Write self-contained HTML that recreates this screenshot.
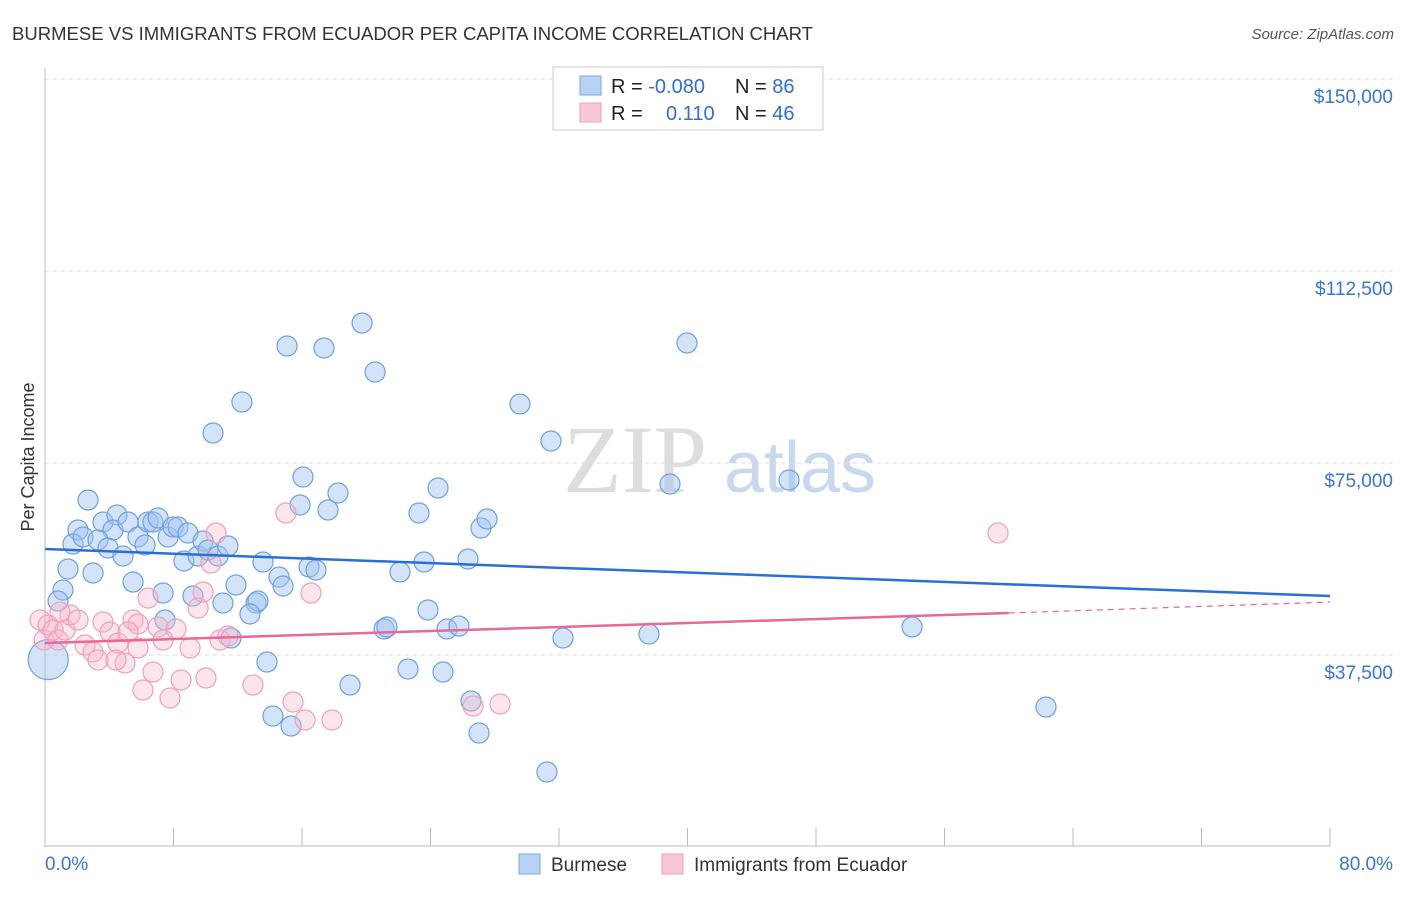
<!DOCTYPE html>
<html><head><meta charset="utf-8"><style>
body{margin:0;background:#fff;font-family:"Liberation Sans",sans-serif;}
</style></head><body>
<svg id="chart" width="1406" height="892" xmlns="http://www.w3.org/2000/svg" style="font-family:'Liberation Sans',sans-serif">
<text x="12" y="40" font-size="18" fill="#333" textLength="801" lengthAdjust="spacingAndGlyphs">BURMESE VS IMMIGRANTS FROM ECUADOR PER CAPITA INCOME CORRELATION CHART</text>
<text x="1394" y="39" font-size="15" fill="#555" font-style="italic" text-anchor="end">Source: ZipAtlas.com</text>
<text x="34" y="457" font-size="18" fill="#333" text-anchor="middle" transform="rotate(-90 34 457)">Per Capita Income</text>
<g><text x="635" y="492" font-size="96" font-family="Liberation Serif,serif" fill="#ddd" text-anchor="middle">ZIP</text><text x="800" y="492" font-size="72" fill="#c8d8ee" text-anchor="middle">atlas</text></g>
<g id="grid"></g><g id="axes"></g><g id="marks"></g><g id="lines"></g>
<g>
<rect x="553" y="67" width="270" height="63" fill="#fff" stroke="#ccc"/>
<rect x="580" y="76" width="21" height="19" fill="#b8d2f4" stroke="#7aa8e6"/>
<rect x="580" y="103" width="21" height="19" fill="#f9c8d6" stroke="#f0a0b8"/>
<text x="611" y="93" font-size="20" fill="#222">R = <tspan fill="#2f6fd0">-0.080</tspan></text>
<text x="735" y="93" font-size="20" fill="#222">N = <tspan fill="#2f6fd0">86</tspan></text>
<text x="611" y="120" font-size="20" fill="#222">R = </text><text x="666" y="120" font-size="20" fill="#2f6fd0">0.110</text>
<text x="735" y="120" font-size="20" fill="#222">N = <tspan fill="#2f6fd0">46</tspan></text>
</g>
<g>
<rect x="519" y="854" width="21" height="20" fill="#b8d2f4" stroke="#7aa8e6"/>
<text x="551" y="871" font-size="19" fill="#333">Burmese</text>
<rect x="662" y="854" width="21" height="20" fill="#f9c8d6" stroke="#f0a0b8"/>
<text x="694" y="871" font-size="19" fill="#333">Immigrants from Ecuador</text>
</g>
</svg>
<script>
const yTicks=[37500,75000,112500,150000];
const yTickLabels=["$37,500","$75,000","$112,500","$150,000"];
const xTickLabels=["0.0%","80.0%"];
const blueXs=[2.68,2.05,1.74,2.37,3.61,4.48,4.23,3.30,3.92,5.17,5.79,6.41,6.23,6.72,7.04,7.66,7.97,8.28,8.90,8.65,9.53,9.84,10.15,10.77,11.39,4.86,1.43,2.99,1.12,0.81,5.48,7.35,9.21,11.08,11.89,13.14,13.26,12.76,11.58,13.57,14.57,14.82,16.44,16.87,13.82,14.19,15.32,15.88,16.06,17.62,18.24,15.07,17.37,19.74,20.55,12.26,10.46,22.10,23.28,23.60,23.84,21.11,21.29,22.60,24.47,24.78,25.03,25.77,26.33,27.14,27.52,26.52,27.02,29.57,31.50,32.25,38.91,39.97,37.60,46.32,53.98,62.32,31.25,18.99,7.47];
const blueYs=[67773,61914,59180,60547,63477,64844,61914,59961,58398,63477,60547,63477,58984,63477,64258,60547,62500,62500,61328,55859,56836,59766,58008,56836,58789,56836,54297,53516,50195,48047,51758,49609,49023,47656,51172,47656,48047,45508,40820,55664,52734,50977,54688,54102,36133,25586,23633,66797,72266,65820,69141,97852,97461,102344,92773,86914,80859,53711,65234,55664,46289,42578,42969,34766,70117,34180,42578,43164,56250,62305,64063,28516,22266,86523,79297,40820,70898,98438,41602,71680,42969,27344,14648,31641,44336];
const pinkXs=[-0.31,-0.06,0.19,0.50,0.81,1.25,1.56,2.05,2.49,2.99,3.30,3.61,4.05,4.54,4.98,5.48,5.79,5.17,6.10,6.41,6.72,7.04,7.35,7.78,8.16,8.47,9.03,9.53,9.84,10.02,10.33,10.65,10.90,11.39,12.95,15.00,15.44,16.19,16.56,17.87,26.65,28.33,59.33,5.79,4.42,0.93];
const pinkYs=[44336,40430,43359,42383,40430,42383,45313,44336,39453,38086,36523,43945,41992,39844,35938,44336,43555,41992,30664,48633,34180,42969,40430,29102,42578,32617,38867,46680,49805,33008,55469,61328,40430,41211,31641,65234,28320,24805,49609,24805,27539,27930,61328,38867,36523,45898];
const blueLine=[58200,49020];
const pinkLine=[39840,45700,47850];
const pinkSolidEnd=60;
const X=p=>45+p*1285/80;
const Y=v=>847-v*192/37500;
const NS="http://www.w3.org/2000/svg";
function mk(t,a,parent){const e=document.createElementNS(NS,t);for(const k in a)e.setAttribute(k,a[k]);document.getElementById(parent).appendChild(e);return e;}
yTicks.forEach((v,i)=>{
 const l=mk('line',{x1:45,x2:1394,y1:Y(v),y2:Y(v),stroke:'#ddd','stroke-dasharray':'4,4'},'grid');
 
 
 const t=mk('text',{x:1393,y:Y(v)+24,'font-size':19,fill:'#3a74d4','text-anchor':'end'},'axes');
 t.textContent=yTickLabels[i];
 
 
});
const ya=mk('line',{x1:45,x2:45,y1:68,y2:847,stroke:'#bbb'},'axes');


const xa=mk('line',{x1:45,x2:1330,y1:846,y2:846,stroke:'#bbb'},'axes');


for(let i=0;i<=10;i++){const tk=mk('line',{x1:X(i*8),x2:X(i*8),y1:828,y2:846,stroke:'#bbb'},'axes');
 
 }
[[0,45,'start'],[80,1393,'end']].forEach((d,i)=>{const t=mk('text',{x:d[1],y:870,'font-size':19,fill:'#3a74d4','text-anchor':d[2]},'axes');t.textContent=xTickLabels[i];
 
 });
blueXs.forEach((x,i)=>{const c=mk('circle',{cx:X(x),cy:Y(blueYs[i]),r:10,fill:'rgba(160,196,240,0.45)',stroke:'#6fa0e0','stroke-width':1.2},'marks');
 
 });
const big=mk('circle',{cx:X(0.2),cy:Y(36600),r:20,fill:'rgba(160,196,240,0.45)',stroke:'#6fa0e0','stroke-width':1.2},'marks');


pinkXs.forEach((x,i)=>{const c=mk('circle',{cx:X(x),cy:Y(pinkYs[i]),r:10,fill:'rgba(246,180,200,0.35)',stroke:'#f0a0b8','stroke-width':1.2},'marks');
 
 });
const bl=mk('line',{x1:X(0),y1:Y(blueLine[0]),x2:X(80),y2:Y(blueLine[1]),stroke:'#2a6fd6','stroke-width':2.5},'lines');


const pl=mk('line',{x1:X(0),y1:Y(pinkLine[0]),x2:X(pinkSolidEnd),y2:Y(pinkLine[1]),stroke:'#e8689a','stroke-width':2.5},'lines');


const pd=mk('line',{x1:X(pinkSolidEnd),y1:Y(pinkLine[1]),x2:X(80),y2:Y(pinkLine[2]),stroke:'#e8689a','stroke-width':1.2,'stroke-dasharray':'6,5'},'lines');


</script>
</body></html>
